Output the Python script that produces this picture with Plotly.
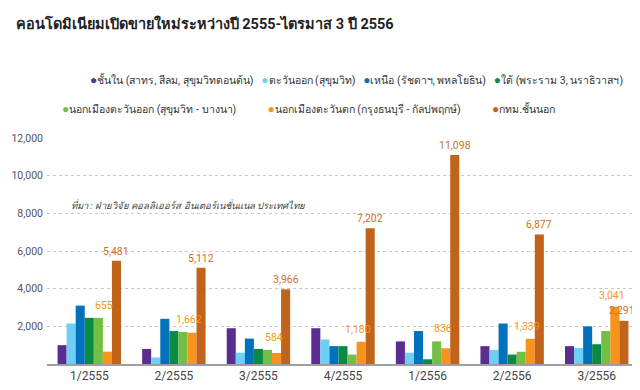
import plotly.graph_objects as go

quarters = ["1/2555", "2/2555", "3/2555", "4/2555", "1/2556", "2/2556", "3/2556"]

series_names = [
    "ชั้นใน (สาทร, สีลม, สุขุมวิทตอนต้น)",
    "ตะวันออก (สุขุมวิท)",
    "เหนือ (รัชดาฯ, พหลโยธิน)",
    "ใต้ (พระราม 3, นราธิวาสฯ)",
    "นอกเมืองตะวันออก (สุขุมวิท - บางนา)",
    "นอกเมืองตะวันตก (กรุงธนบุรี - กัลปพฤกษ์)",
    "กทม.ชั้นนอก",
]
series_colors = ["#5c2d91", "#6dcff6", "#0072bc", "#0b8a45", "#72bf44", "#f7941d", "#c1631a"]
label_colors = {5: "#f7941d", 6: "#d0701c"}

inner_city = [1000, 800, 1900, 1900, 1200, 950, 950]
east = [2150, 350, 600, 1300, 600, 750, 850]
north = [3100, 2400, 1350, 950, 1750, 2150, 2000]
south = [2450, 1750, 800, 950, 250, 500, 1050]
outer_east = [2450, 1700, 750, 500, 1200, 650, 1750]
outer_west = [655, 1662, 584, 1180, 836, 1339, 3041]
outer_bkk = [5481, 5112, 3966, 7202, 11098, 6877, 2291]

all_series = [inner_city, east, north, south, outer_east, outer_west, outer_bkk]
labelled = [5, 6]

y_ticks = [2000, 4000, 6000, 8000, 10000, 12000]

title_text = "คอนโดมิเนียมเปิดขายใหม่ระหว่างปี 2555-ไตรมาส 3 ปี 2556"
source_text = "ที่มา : ฝ่ายวิจัย คอลลิเออร์ส อินเตอร์เนชั่นแนล ประเทศไทย"

FONT = "Roboto, Noto Sans, sans-serif"

# layout geometry (pixels)
W, H = 640, 390
ML, MR, MT, MB = 39, 9, 130, 34
PW, PH = W - ML - MR, H - MT - MB
BARGAP = 0.25
n_series = len(all_series)
slot_px = PW / len(quarters) * (1 - BARGAP) / n_series

fig = go.Figure()
for i, (name, vals, col) in enumerate(zip(series_names, all_series, series_colors)):
    fig.add_trace(go.Bar(x=quarters, y=vals, name=name,
                         marker=dict(color=col, line=dict(width=0)), showlegend=False))

# value labels as annotations (drawn above all bars), anchored via the axes
# orange labels sit above the taller of the orange bar and its left neighbour
label_nudge = {5: (-3, 4), 6: (0, 1)}
special_nudge = {(5, 6): (-3, 3), (6, 6): (-2, 2)}
for i in labelled:
    offset = (i - (n_series - 1) / 2) * slot_px
    for j, (q, v) in enumerate(zip(quarters, all_series[i])):
        anchor_v = max(v, outer_east[j]) if i == 5 else v
        dx, dy = special_nudge.get((i, j), label_nudge[i])
        fig.add_annotation(x=q, y=anchor_v, xref="x", yref="y", text=f"{v:,}", showarrow=False,
                           xanchor="center", yanchor="bottom", xshift=offset + dx, yshift=dy,
                           font=dict(size=10.5, color=label_colors[i], family=FONT))

gap = "&nbsp;&nbsp;&nbsp;"
def legend_row(idx, g):
    return g.join(
        f"<span style='color:{series_colors[i]};font-size:12px'>●</span>{series_names[i]}" for i in idx
    )

fig.add_annotation(xref="paper", yref="paper", x=(80 - ML) / PW, y=1 + (MT - 72) / PH,
                   xanchor="left", yanchor="middle", showarrow=False,
                   text=legend_row(range(4), gap), font=dict(size=10.5, color="#333", family=FONT))
fig.add_annotation(xref="paper", yref="paper", x=(52 - ML) / PW, y=1 + (MT - 101) / PH,
                   xanchor="left", yanchor="middle", showarrow=False,
                   text=legend_row(range(4, 7), gap * 4),
                   font=dict(size=10.5, color="#333", family=FONT))

fig.add_annotation(xref="paper", yref="paper", x=(180 - ML) / PW, y=(H - MB - 197) / PH,
                   xanchor="center", yanchor="middle", showarrow=False,
                   text=f"<i>{source_text}</i>", font=dict(size=9.5, color="#444", family=FONT))

fig.update_layout(
    width=W, height=H,
    margin=dict(l=ML, r=MR, t=MT, b=MB),
    paper_bgcolor="white", plot_bgcolor="white",
    barmode="group", bargap=BARGAP, bargroupgap=0,
    title=dict(text=f"<b>{title_text}</b>", x=0.012, xanchor="left", y=0.96, yanchor="middle",
               font=dict(size=14.5, color="#222", family=FONT)),
    showlegend=False,
)
fig.update_xaxes(showline=True, linecolor="#a0a0a0", linewidth=2, ticks="",
                 tickfont=dict(size=12, color="#444", family=FONT), automargin=False)
fig.update_yaxes(range=[0, 12000], tickvals=y_ticks, tickformat=",", showgrid=True,
                 gridcolor="#c8c8c8", griddash="dot", gridwidth=1, zeroline=False,
                 tickfont=dict(size=10.5, color="#555", family=FONT), ticks="", ticklabelstandoff=3,
                 automargin=False)

fig.write_html("out.html")
